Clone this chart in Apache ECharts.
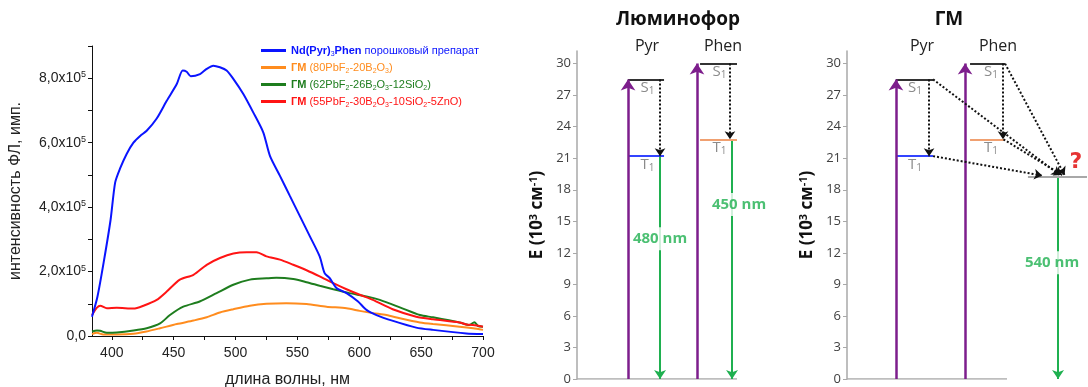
<!DOCTYPE html>
<html><head><meta charset="utf-8">
<script src="https://cdn.jsdelivr.net/npm/echarts@6/dist/echarts.min.js"></script>
<style>html,body{margin:0;padding:0;background:#fff}#c{width:1088px;height:387px}</style>
</head><body><div id="c"></div>
<script>
// ---------- Spectra (intensity in units of 1e5) ----------
const SCALE = 1e5;
const seriesNames = ['Nd(Pyr)3Phen порошковый препарат','ГМ (80PbF2-20B2O3)','ГМ (62PbF2-26B2O3-12SiO2)','ГМ (55PbF2-30B2O3-10SiO2-5ZnO)'];
const seriesColors = ['#0a14ff','#ff8c1e','#1e7d1e','#ff1414'];

const blueNm  = [384,388.3,393.5,399,402.7,406.7,412,417.5,422.9,428.2,436.3,444.4,452.5,457.3,460.5,463.8,471.3,476.7,482,487.4,492.8,498.2,506.3,514.3,522.4,527.8,535.9,544,552,560,568,572,576,581.6,589.7,599,605.8,613.9,627.3,646,659.6,686.5,700];
const blueVal = [0.60,1.2,2.3,3.6,4.76,5.2,5.65,6.0,6.21,6.37,6.75,7.3,7.82,8.24,8.2,8.06,8.13,8.29,8.39,8.34,8.24,7.98,7.51,6.94,6.32,5.59,4.97,4.34,3.72,3.1,2.47,1.95,1.8,1.49,1.33,1.07,0.81,0.65,0.47,0.26,0.19,0.08,0.06];

const orangeNm  = [384,388,393,404,417.5,428,439,452.5,466,476.7,487.4,498.2,511.6,525,541,557.4,573.5,589.7,600.4,611,622,632.8,649,659.6,681,692,700];
const orangeVal = [0.06,0.10,0.05,0.05,0.07,0.14,0.24,0.37,0.48,0.58,0.73,0.83,0.94,1.00,1.02,0.99,0.91,0.86,0.78,0.71,0.65,0.55,0.42,0.37,0.29,0.24,0.19];

const greenNm  = [384,388,390.6,396,404,417.5,428.2,439,447,457.8,471,484.7,498.2,511.6,525,533,546.6,557.4,568,579,592,605.8,616.6,632.8,649,659.6,681,689,693,696,700];
const greenVal = [0.14,0.17,0.16,0.10,0.11,0.17,0.24,0.39,0.65,0.91,1.07,1.33,1.59,1.75,1.79,1.81,1.77,1.67,1.56,1.45,1.33,1.23,1.12,0.89,0.65,0.58,0.42,0.34,0.43,0.31,0.29];

const redNm  = [384,388,390.6,396,404,417.5,425.6,436.3,444.4,455,466,476.7,487.4,498.2,509,517,525,535.9,546.6,557.4,568,579,589.7,600.4,611,627,646,659.6,681,686.5,692,700];
const redVal = [0.65,0.88,0.94,0.86,0.88,0.85,0.94,1.12,1.38,1.75,1.90,2.21,2.42,2.56,2.60,2.60,2.47,2.37,2.21,2.04,1.85,1.64,1.45,1.28,1.12,0.83,0.60,0.52,0.42,0.36,0.34,0.29];

const xLabelTicks = [400,450,500,550,600,650,700];
const xMinorTicks = [400,425,450,475,500,525,550,575,600,625,650,675,700];
const yLabelTicks = [0,2e5,4e5,6e5,8e5];
const yMinorTicks = [0,1e5,2e5,3e5,4e5,5e5,6e5,7e5,8e5,9e5];

// ---------- Energy diagrams (10^3 cm^-1) ----------
const E_TICKS = [0,3,6,9,12,15,18,21,24,27,30];
const pyrEnergy = [28.5, 21.2];   // S1, T1
const phenEnergy = [30.0, 22.8];  // S1, T1
const acceptorEnergy = 19.25;
const emissionLabels = ['480 nm','450 nm','540 nm'];
const panelTitles = ['Люминофор','ГМ'];
const columnNames = ['Pyr','Phen'];

// layout (x units of each diagram panel)
const L1 = {pyrExc:3.19, pyrL:[3.19,5.44], pyrDrop:5.19, phenExc:7.5, phenL:[7.69,10], phenDrop:9.56, phenEm:9.69, pyrLab:4.4, phenLab:8.9, emY:[13.35,16.6], emOff:[0,7]};
const L2 = {pyrExc:3.06, pyrL:[3.06,5.38], pyrDrop:5.13, phenExc:7.38, phenL:[7.69,9.88], phenDrop:9.75, pyrLab:4.25, phenLab:9.0,
            acc:[11.31,15], accEm:13.19, endPyrS1:13.3, endPyrT1:12.2, endPhenS1:13.6, endPhenT1:13.45, emY:11.05, emOff:-6, qX:14.3, qY:20.6};

const PURPLE = '#7d1e8c', GREEN = '#1fb050', BLUE_L = '#3344ff', ORANGE_L = '#f0a070', GRAY = '#a8a8a8';
const DF = 'Open Sans';

function legendFmt(name){
  const i = seriesNames.indexOf(name);
  const sp = name.indexOf(' ');
  const head = name.slice(0, sp), rest = name.slice(sp);
  function conv(s, key){
    let out = '', buf = '';
    for (let k = 0; k < s.length; k++){
      const ch = s[k], prev = s[k-1] || '';
      if (/[0-9]/.test(ch) && /[A-Za-z)]/.test(prev)){
        if (buf) { out += '{' + key + i + '|' + buf + '}'; buf=''; }
        out += '{s' + i + '|' + ch + '}';
      } else buf += ch;
    }
    if (buf) out += '{' + key + i + '|' + buf + '}';
    return out;
  }
  return conv(head, 'b') + conv(rest, 'n');
}
const legendRich = {};
seriesColors.forEach((c, i) => {
  legendRich['b'+i] = {color:c, fontWeight:'bold', fontSize:11, fontFamily:'Liberation Sans', lineHeight:14};
  legendRich['n'+i] = {color:c, fontSize:11, fontFamily:'Liberation Sans', lineHeight:14};
  legendRich['s'+i] = {color:c, fontSize:7, fontFamily:'Liberation Sans', verticalAlign:'bottom', lineHeight:14, padding:[5,0,0,0]};
});

const spectra = [[blueNm,blueVal],[orangeNm,orangeVal],[greenNm,greenVal],[redNm,redVal]];
const series = spectra.map((s, i) => ({
  name: seriesNames[i], type:'line', xAxisIndex:0, yAxisIndex:0, showSymbol:false, symbol:'none', smooth:0.25,
  lineStyle:{color:seriesColors[i], width:2}, itemStyle:{color:seriesColors[i]},
  data: s[0].map((x, k) => [x, s[1][k]*SCALE]), z: 3 + (i===0?1:0)
}));

function seg(a, b, color){ return {coords:[a,b], lineStyle:{color}}; }

function panelSeries(gi, L, isGM){
  const out = [];
  const base = [{coords:[[0,0],[10,0]]}];
  out.push({type:'lines', coordinateSystem:'cartesian2d', xAxisIndex:gi, yAxisIndex:gi, symbol:'none', silent:true,
    lineStyle:{color:GRAY, width:1.5, opacity:1}, data: base, z:1});
  const levels = [
    seg([L.pyrL[0], pyrEnergy[0]], [L.pyrL[1], pyrEnergy[0]], '#333'),
    seg([L.pyrL[0], pyrEnergy[1]], [L.pyrL[1], pyrEnergy[1]], BLUE_L),
    seg([L.phenL[0], phenEnergy[0]], [L.phenL[1], phenEnergy[0]], '#333'),
    seg([L.phenL[0], phenEnergy[1]], [L.phenL[1], phenEnergy[1]], ORANGE_L)
  ];
  if (isGM) levels.push(seg([L.acc[0], acceptorEnergy], [L.acc[1], acceptorEnergy], GRAY));
  out.push({type:'lines', coordinateSystem:'cartesian2d', xAxisIndex:gi, yAxisIndex:gi, symbol:'none', silent:true,
    lineStyle:{width:2, opacity:1}, data: levels, z:3});
  out.push({type:'lines', coordinateSystem:'cartesian2d', xAxisIndex:gi, yAxisIndex:gi, symbol:['none','arrow'], symbolSize:[8,11], silent:true,
    lineStyle:{color:PURPLE, width:2.5, opacity:1},
    data:[{coords:[[L.pyrExc,0],[L.pyrExc,pyrEnergy[0]]]},{coords:[[L.phenExc,0],[L.phenExc,phenEnergy[0]]]}], z:4});
  const em = isGM ? [{coords:[[L.accEm,acceptorEnergy],[L.accEm,0]]}]
                  : [{coords:[[L.pyrDrop,pyrEnergy[1]],[L.pyrDrop,0]]},{coords:[[L.phenEm,phenEnergy[1]],[L.phenEm,0]]}];
  out.push({type:'lines', coordinateSystem:'cartesian2d', xAxisIndex:gi, yAxisIndex:gi, symbol:['none','arrow'], symbolSize:[7,9], silent:true,
    lineStyle:{color:GREEN, width:2, opacity:1}, data: em, z:2});
  const dots = [
    {coords:[[L.pyrDrop,pyrEnergy[0]],[L.pyrDrop,pyrEnergy[1]]]},
    {coords:[[L.phenDrop,phenEnergy[0]],[L.phenDrop,phenEnergy[1]]]}
  ];
  if (isGM){
    dots.push({coords:[[L.pyrL[1],pyrEnergy[0]],[L.endPyrS1,acceptorEnergy+0.15]]});
    dots.push({coords:[[L.pyrL[1],pyrEnergy[1]],[L.endPyrT1,acceptorEnergy+0.1]]});
    dots.push({coords:[[L.phenL[1],phenEnergy[0]],[L.endPhenS1,acceptorEnergy+0.15]]});
    dots.push({coords:[[L.phenL[1]-0.1,phenEnergy[1]],[L.endPhenT1,acceptorEnergy+0.15]]});
  }
  out.push({type:'lines', coordinateSystem:'cartesian2d', xAxisIndex:gi, yAxisIndex:gi, symbol:['none','arrow'], symbolSize:[6,8], silent:true,
    lineStyle:{color:'#111', width:2, type:'dotted', opacity:1}, data: dots, z:5});
  const lab = (x, y, txt) => ({value:[x,y], label:{formatter: txt[0] + '{sub|' + txt.slice(1) + '}'}});
  out.push({type:'scatter', xAxisIndex:gi, yAxisIndex:gi, symbolSize:0, silent:true, z:6,
    label:{show:true, position:'bottom', distance:0, color:'#6e6e6e', fontSize:15, fontFamily:DF,
      rich:{sub:{fontSize:10, color:'#6e6e6e', fontFamily:DF, verticalAlign:'bottom', padding:[7,0,0,0]}}},
    data:[lab(L.pyrLab,pyrEnergy[0],'S1'), lab(L.pyrLab,pyrEnergy[1],'T1'), lab(L.phenLab,phenEnergy[0],'S1'), lab(L.phenLab,phenEnergy[1],'T1')]});
  const emLab = isGM ? [{value:[L.accEm, L.emY], label:{formatter:emissionLabels[2], offset:[L.emOff,0]}}]
    : [{value:[L.pyrDrop, L.emY[0]], label:{formatter:emissionLabels[0], offset:[L.emOff[0],0]}},
       {value:[L.phenEm, L.emY[1]], label:{formatter:emissionLabels[1], offset:[L.emOff[1],0]}}];
  out.push({type:'scatter', xAxisIndex:gi, yAxisIndex:gi, symbolSize:0, silent:true, z:7,
    label:{show:true, position:'inside', color:GREEN, fontSize:15, fontWeight:'bold', fontFamily:DF, backgroundColor:'#fff', padding:[4,2]},
    data: emLab});
  if (isGM){
    out.push({type:'scatter', xAxisIndex:gi, yAxisIndex:gi, symbolSize:0, silent:true, z:7,
      label:{show:true, position:'inside', color:'#e00000', fontSize:22, fontWeight:'bold', fontFamily:'DejaVu Sans', formatter:'?'},
      data:[[L.qX, L.qY]]});
  }
  return out;
}

const diagYAxis = (gi) => ({
  gridIndex:gi, type:'value', min:0, max:31.2, interval:3,
  axisLine:{show:true, lineStyle:{color:GRAY, width:1.5}},
  axisTick:{show:true, length:4, lineStyle:{color:GRAY}, customValues:E_TICKS},
  axisLabel:{customValues:E_TICKS, color:'#404040', fontSize:13, fontFamily:DF, margin:6},
  splitLine:{show:false},
  name:'E (10{sup|3} см{sup|-1})', nameLocation:'middle', nameGap:30, nameRotate:90,
  nameTextStyle:{fontSize:17, fontWeight:'bold', color:'#111', fontFamily:DF,
    rich:{sup:{fontSize:11, fontWeight:'bold', color:'#111', fontFamily:DF, verticalAlign:'top', padding:[0,0,8,0]}}}
});

const yFmt = v => v === 0 ? '0,0' : (v/SCALE).toFixed(1).replace('.', ',') + 'x10{sup|5}';
const titleStyle = {fontSize:19, fontWeight:'bold', color:'#111', fontFamily:DF};
const colStyle = {fontSize:16, fontWeight:'normal', color:'#222', fontFamily:DF};

const option = {
  animation:false,
  backgroundColor:'#fff',
  title:[
    {text:panelTitles[0], left:673, top:5, textAlign:'center', textStyle:titleStyle},
    {text:panelTitles[1], left:944, top:5, textAlign:'center', textStyle:titleStyle},
    {text:columnNames[0], left:642, top:33, textAlign:'center', textStyle:colStyle},
    {text:columnNames[1], left:718, top:33, textAlign:'center', textStyle:colStyle},
    {text:columnNames[0], left:917, top:33, textAlign:'center', textStyle:colStyle},
    {text:columnNames[1], left:993, top:33, textAlign:'center', textStyle:colStyle}
  ],
  legend:{
    data: seriesNames, orient:'vertical', left:256, top:40, itemWidth:25, itemHeight:3, icon:'rect', itemGap:4.5,
    formatter: legendFmt, textStyle:{rich: legendRich, fontSize:11}
  },
  grid:[
    {left:92, top:46, width:391, height:290, outerBoundsMode:'none', containLabel:false},
    {left:577, top:51, width:160, height:328, outerBoundsMode:'none', containLabel:false},
    {left:847, top:51, width:240, height:328, outerBoundsMode:'none', containLabel:false}
  ],
  xAxis:[
    {gridIndex:0, type:'value', min:384, max:700,
     axisLine:{show:true, onZero:false, lineStyle:{color:'#111', width:1}},
     axisTick:{show:true, length:4, customValues:xMinorTicks, lineStyle:{color:'#111'}},
     axisLabel:{customValues:xLabelTicks, color:'#222', fontSize:14, fontFamily:'Liberation Sans', margin:10},
     splitLine:{show:false},
     name:'длина волны, нм', nameLocation:'middle', nameGap:36,
     nameTextStyle:{fontSize:16, color:'#222', fontFamily:'Liberation Sans'}},
    {gridIndex:1, type:'value', min:0, max:10, show:false},
    {gridIndex:2, type:'value', min:0, max:15, show:false}
  ],
  yAxis:[
    {gridIndex:0, type:'value', min:0, max:9e5,
     axisLine:{show:true, lineStyle:{color:'#111', width:1}},
     axisTick:{show:true, length:4, customValues:yMinorTicks, lineStyle:{color:'#111'}},
     axisLabel:{customValues:yLabelTicks, formatter:yFmt, color:'#222', fontSize:14, fontFamily:'Liberation Sans', margin:6,
       rich:{sup:{fontSize:9, color:'#222', fontFamily:'Liberation Sans', verticalAlign:'top', padding:[0,0,7,0]}}},
     splitLine:{show:false},
     name:'интенсивность ФЛ, имп.', nameLocation:'middle', nameGap:68,
     nameTextStyle:{fontSize:16, color:'#222', fontFamily:'Liberation Sans'}},
    diagYAxis(1), diagYAxis(2)
  ],
  series: series.concat(panelSeries(1, L1, false), panelSeries(2, L2, true))
};
const chart = echarts.init(document.getElementById('c'), null, {renderer:'canvas'});
chart.setOption(option);
</script>
</body></html>
